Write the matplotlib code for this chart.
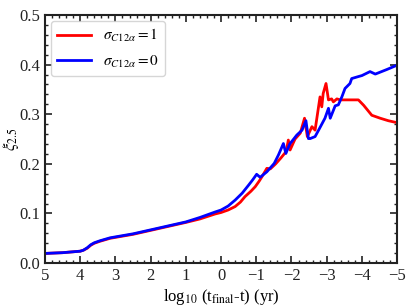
import matplotlib
matplotlib.use("Agg")
import matplotlib.pyplot as plt
from matplotlib.ticker import MultipleLocator

plt.rcParams['font.family'] = ['Liberation Serif', 'DejaVu Serif']
plt.rcParams['mathtext.fontset'] = 'stix'

# sigma_C12a = 1 (red)
x_red = [5.0, 4.5, 4.0, 3.91, 3.8, 3.7, 3.6, 3.44, 3.15, 2.5, 2.0, 1.5, 1.0, 0.6, 0.17, 0.0,
         -0.2, -0.4, -0.55, -0.68, -0.85, -0.97, -1.08, -1.16, -1.30, -1.40, -1.55, -1.70,
         -1.85, -1.91, -1.96, -2.10, -2.25, -2.37, -2.45, -2.58, -2.67, -2.81, -2.86,
         -2.90, -2.98, -3.05, -3.14, -3.19, -3.29, -3.38, -3.60, -3.90, -4.05, -4.28,
         -4.52, -4.75, -5.0]
y_red = [0.0195, 0.021, 0.024, 0.026, 0.030, 0.036, 0.040, 0.044, 0.050, 0.058, 0.066,
         0.074, 0.082, 0.089, 0.099, 0.102,
         0.107, 0.114, 0.123, 0.134, 0.145, 0.154, 0.165, 0.174, 0.191, 0.190, 0.200, 0.212,
         0.225, 0.248, 0.228, 0.250, 0.262, 0.292, 0.255, 0.275, 0.268, 0.335, 0.315,
         0.342, 0.362, 0.329, 0.331, 0.325, 0.331, 0.329, 0.329, 0.329, 0.318, 0.298,
         0.292, 0.287, 0.283]

# sigma_C12a = 0 (blue)
x_blue = [5.0, 4.5, 4.0, 3.91, 3.8, 3.7, 3.6, 3.44, 3.15, 2.5, 2.0, 1.5, 1.0, 0.6, 0.17, 0.0,
          -0.2, -0.4, -0.6, -0.78, -0.9, -1.01, -1.11, -1.30, -1.51, -1.63, -1.77, -1.84,
          -1.95, -2.15, -2.30, -2.41, -2.48, -2.53, -2.67, -2.77, -2.95, -3.05, -3.10,
          -3.19, -3.24, -3.33, -3.43, -3.52, -3.66, -3.71, -3.90, -4.0, -4.23, -4.38,
          -4.7, -5.0]
y_blue = [0.0195, 0.021, 0.024, 0.026, 0.031, 0.037, 0.041, 0.045, 0.051, 0.059, 0.067,
          0.075, 0.083, 0.092, 0.103, 0.107,
          0.115, 0.127, 0.141, 0.157, 0.168, 0.179, 0.173, 0.184, 0.201, 0.218, 0.241, 0.221,
          0.240, 0.258, 0.268, 0.287, 0.251, 0.251, 0.255, 0.268, 0.292, 0.312, 0.292,
          0.308, 0.317, 0.319, 0.335, 0.352, 0.362, 0.372, 0.376, 0.378, 0.386, 0.381,
          0.390, 0.399]

fig = plt.figure(figsize=(4.09, 3.07), dpi=100)
ax = fig.add_axes([0.110, 0.143, 0.861, 0.808])

ax.plot(x_red, y_red, color='#ff0000', lw=2.0, label=r'$\sigma_{C12\alpha}=1$')
ax.plot(x_blue, y_blue, color='#0000ff', lw=2.0, label=r'$\sigma_{C12\alpha}=0$')

ax.set_xlim(5, -5)
ax.set_ylim(0, 0.5)
ax.xaxis.set_major_locator(MultipleLocator(1))
ax.xaxis.set_minor_locator(MultipleLocator(0.2))
ax.yaxis.set_major_locator(MultipleLocator(0.1))
ax.yaxis.set_minor_locator(MultipleLocator(0.02))
ax.tick_params(which='both', direction='in', top=True, right=True, labelsize=12, colors='#222222')
ax.tick_params(which='major', length=5, width=1.2)
ax.tick_params(which='minor', length=2.5, width=1.0)
for s in ax.spines.values():
    s.set_linewidth(1.5)
    s.set_color('#222222')
ax.set_xlabel(r'log$_{10}$ (t$_{\rm final}$-t) (yr)', fontsize=12, labelpad=2)
ax.set_ylabel(r'$\xi_{2.5}$', fontsize=12)
ax.yaxis.set_label_coords(-0.068, 0.5)

leg = ax.legend(loc='upper left', fontsize=11, handlelength=2.2, frameon=True,
                borderaxespad=0.4, labelspacing=0.6)
leg.get_frame().set_edgecolor('#cccccc')

fig.savefig('out.png', dpi=100)
